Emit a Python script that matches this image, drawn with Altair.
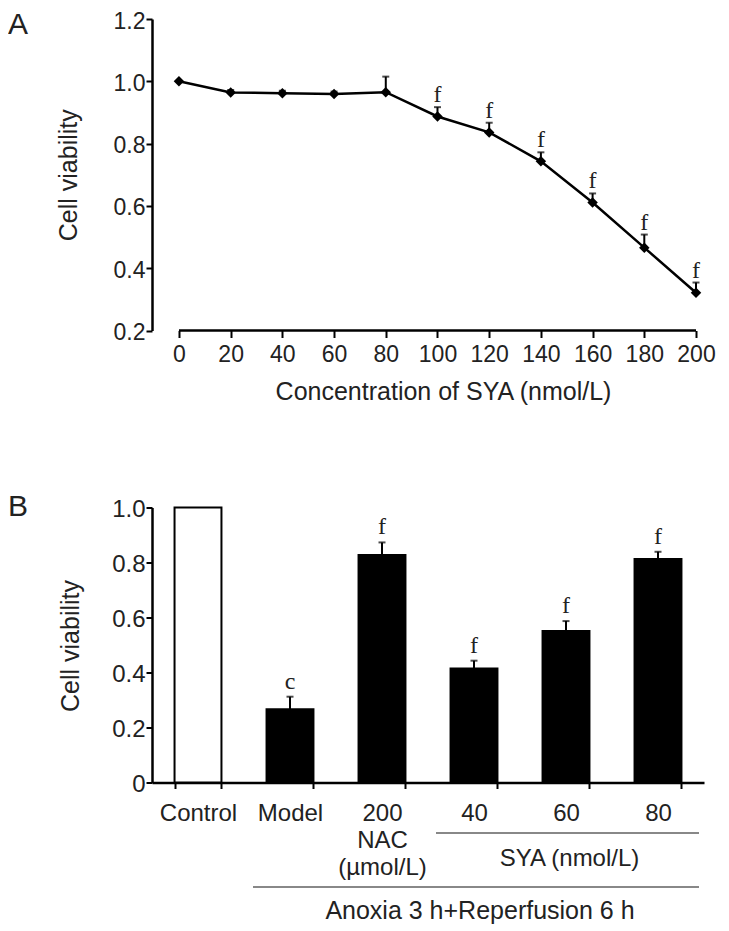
import altair as alt
import pandas as pd

# ---------------- Panel A data ----------------
conc = [0, 20, 40, 60, 80, 100, 120, 140, 160, 180, 200]
viab = [1.0, 0.964, 0.962, 0.959, 0.965, 0.887, 0.836, 0.743, 0.611, 0.466, 0.321]
viab_err = [0.0, 0.008, 0.008, 0.008, 0.05, 0.03, 0.031, 0.029, 0.029, 0.042, 0.033]
viab_sig = ["", "", "", "", "", "f", "f", "f", "f", "f", "f"]
a_yticks = [0.2, 0.4, 0.6, 0.8, 1.0, 1.2]

# ---------------- Panel B data ----------------
groups = ["Control", "Model", "200", "40", "60", "80"]
bar_vals = [1.0, 0.266, 0.827, 0.415, 0.551, 0.813]
bar_err = [0.0, 0.046, 0.046, 0.028, 0.036, 0.026]
bar_sig = ["", "c", "f", "f", "f", "f"]
bar_fill = ["white", "black", "black", "black", "black", "black"]
b_yticks = [0, 0.2, 0.4, 0.6, 0.8, 1.0]

SANS = "Liberation Sans"
SERIF = "Liberation Serif"
TXT = "#222222"

A_H = 311.5

dfA = pd.DataFrame({"conc": conc, "viab": viab, "err": viab_err, "sig": viab_sig})
dfA["top"] = dfA["viab"] + dfA["err"]

xA = alt.X(
    "conc:Q",
    scale=alt.Scale(domain=[-10.43, 200], nice=False, zero=False),
    axis=alt.Axis(
        values=conc, domain=False, grid=False, tickSize=7, tickWidth=2,
        labelFontSize=23, labelPadding=6, labelFlush=False, labelOverlap=False,
        title="Concentration of SYA (nmol/L)", titleFontSize=25, titleFontWeight="normal",
        titleX=291, titleY=61, titleBaseline="middle", titleAlign="center",
    ),
)
yA_axis = alt.Axis(
    values=a_yticks, format=".1f", grid=False, tickSize=6, tickWidth=2,
    domainWidth=2.5, labelFontSize=23, labelPadding=1, labelOffset=2,
    title="Cell viability", titleAngle=270, titleX=-84, titleY=A_H / 2,
    titleBaseline="middle", titleAlign="center", titleFontSize=25, titleFontWeight="normal",
)
yA_scale = alt.Scale(domain=[0.2, 1.2], nice=False, zero=False)

baseA = alt.Chart(dfA)
axis_line = alt.Chart(pd.DataFrame({"x0": [conc[0]], "x1": [conc[-1]], "y": [a_yticks[0]]})).mark_rule(
    color="black", strokeWidth=2.5
).encode(x=alt.X("x0:Q"), x2="x1:Q", y=alt.Y("y:Q"))
lineA = baseA.mark_line(color="black", strokeWidth=2.5).encode(
    x=xA, y=alt.Y("viab:Q", scale=yA_scale, axis=yA_axis)
)
errA = baseA.mark_rule(color="black", strokeWidth=2).encode(x="conc:Q", y="viab:Q", y2="top:Q")
capA = baseA.mark_tick(orient="horizontal", size=7, thickness=2, color="black").encode(
    x="conc:Q", y="top:Q"
)
ptsA = baseA.mark_point(shape="diamond", filled=True, size=110, color="black", opacity=1).encode(
    x="conc:Q", y="viab:Q"
)
sigA = baseA.mark_text(font=SERIF, fontSize=24, dy=-5, baseline="alphabetic", color=TXT).encode(
    x="conc:Q", y="top:Q", text="sig:N"
)
labA = alt.Chart(pd.DataFrame({"t": ["A"]})).mark_text(
    align="left", baseline="middle", fontSize=30, font=SANS, color=TXT
).encode(x=alt.value(-144), y=alt.value(6), text="t:N")

chartA = alt.layer(axis_line, lineA, errA, capA, ptsA, sigA, labA).properties(width=544, height=A_H)

# ---------------- Panel B ----------------
dfB = pd.DataFrame({"group": groups, "val": bar_vals, "err": bar_err, "sig": bar_sig, "fill": bar_fill})
dfB["top"] = dfB["val"] + dfB["err"]

xB = alt.X(
    "group:N", sort=groups,
    scale=alt.Scale(paddingInner=0.49, paddingOuter=0.245),
    axis=alt.Axis(
        title=None, labelAngle=0, labelFontSize=24, tickBand="extent", tickSize=6, tickWidth=2,
        domainWidth=2.5, labelPadding=13, labelLineHeight=27,
        labelExpr="datum.label == '200' ? ['200', 'NAC', '(\u00b5mol/L)'] : datum.label",
    ),
)
yB = alt.Y(
    "val:Q", scale=alt.Scale(domain=[0, 1], nice=False),
    axis=alt.Axis(
        values=b_yticks, labelExpr="datum.value == 0 ? '0' : format(datum.value, '.1f')",
        grid=False, tickSize=6, tickWidth=2, domainWidth=2.5, labelFontSize=24,
        labelPadding=1, labelOffset=2,
        title="Cell viability", titleAngle=270, titleX=-82, titleY=138,
        titleBaseline="middle", titleAlign="center", titleFontSize=25, titleFontWeight="normal",
    ),
)
baseB = alt.Chart(dfB)
bars = baseB.mark_bar(stroke="black", strokeWidth=2).encode(
    x=xB, y=yB, fill=alt.Fill("fill:N", scale=None)
)
errB_df = baseB.transform_filter("datum.err > 0")
errB = errB_df.mark_rule(color="black", strokeWidth=2).encode(
    x=alt.X("group:N", sort=groups), y="val:Q", y2="top:Q"
)
capB = errB_df.mark_tick(orient="horizontal", size=7, thickness=2, color="black").encode(
    x=alt.X("group:N", sort=groups), y="top:Q"
)
sigB = baseB.mark_text(font=SERIF, fontSize=24, dy=-8, baseline="alphabetic", color=TXT).encode(
    x=alt.X("group:N", sort=groups), y="top:Q", text="sig:N"
)
labB = alt.Chart(pd.DataFrame({"t": ["B"]})).mark_text(
    align="left", baseline="middle", fontSize=30, font=SANS, color=TXT
).encode(x=alt.value(-144), y=alt.value(-1), text="t:N")

ann_df = pd.DataFrame({"t": ["SYA (nmol/L)"]})
sya_line = alt.Chart(ann_df).mark_rule(color="#888888", strokeWidth=2).encode(
    x=alt.value(284), x2=alt.value(547), y=alt.value(325.5)
)
sya_text = alt.Chart(ann_df).mark_text(fontSize=24, font=SANS, color=TXT, baseline="middle").encode(
    x=alt.value(417.5), y=alt.value(351), text="t:N"
)
anox_df = pd.DataFrame({"t": ["Anoxia 3 h+Reperfusion 6 h"]})
anox_line = alt.Chart(anox_df).mark_rule(color="#888888", strokeWidth=2).encode(
    x=alt.value(101), x2=alt.value(547), y=alt.value(379.5)
)
anox_text = alt.Chart(anox_df).mark_text(fontSize=25, font=SANS, color=TXT, baseline="middle").encode(
    x=alt.value(328), y=alt.value(403), text="t:N"
)

chartB = alt.layer(bars, errB, capB, sigB, labB, sya_line, sya_text, anox_line, anox_text).properties(
    width=552, height=275
)

chart = (
    alt.vconcat(chartA, chartB, spacing=75.5)
    .properties(padding={"left": 0, "right": 0, "top": 2, "bottom": 0})
    .configure_view(stroke=None)
    .configure_axis(
        labelFont=SANS, titleFont=SANS, labelColor=TXT, titleColor=TXT,
        domainColor="black", tickColor="black",
    )
)

chart.save("out.html", embed_options={"renderer": "svg", "actions": False})
